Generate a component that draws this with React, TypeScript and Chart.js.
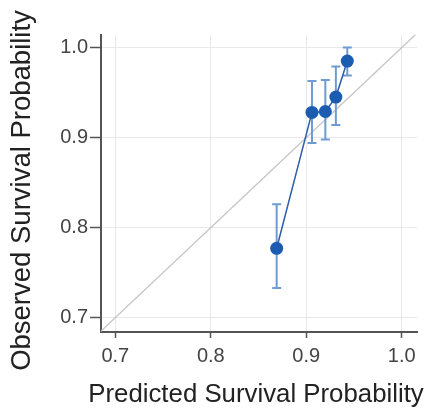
import React, { useEffect, useRef } from "react";
import { Chart, registerables } from "chart.js";

Chart.register(...registerables);

// Calibration data
const predicted = [0.869, 0.906, 0.92, 0.931, 0.943];
const observed = [0.777, 0.928, 0.929, 0.945, 0.985];
const lowerCI = [0.733, 0.894, 0.898, 0.914, 0.969];
const upperCI = [0.826, 0.963, 0.964, 0.979, 1.0];
const referenceLine = [0.68, 1.02];
const tickValues = [0.7, 0.8, 0.9, 1.0];
const xTitle = "Predicted Survival Probability";
const yTitle = "Observed Survival Probability";

const FONT = "'Liberation Sans', Arial, Helvetica, sans-serif";

const errorBarPlugin = {
  id: "errorBars",
  beforeDatasetDraw(chart: any, args: any) {
    if (args.index !== 0) return;
    const { ctx, scales } = chart;
    const x = scales.x;
    const y = scales.y;
    ctx.save();
    ctx.strokeStyle = "#6f9bd2";
    ctx.lineWidth = 2;
    predicted.forEach((p, i) => {
      const px = x.getPixelForValue(p);
      const yl = y.getPixelForValue(lowerCI[i]);
      const yu = y.getPixelForValue(upperCI[i]);
      ctx.beginPath();
      ctx.moveTo(px, yl);
      ctx.lineTo(px, yu);
      ctx.moveTo(px - 4.5, yl);
      ctx.lineTo(px + 4.5, yl);
      ctx.moveTo(px - 4.5, yu);
      ctx.lineTo(px + 4.5, yu);
      ctx.stroke();
    });
    ctx.restore();
  },
};

const axisTitlePlugin = {
  id: "axisTitles",
  afterDraw(chart: any) {
    const { ctx, chartArea } = chart;
    ctx.save();
    ctx.fillStyle = "#222222";
    ctx.textAlign = "center";
    ctx.textBaseline = "middle";
    ctx.font = `25.8px ${FONT}`;
    ctx.fillText(xTitle, (chartArea.left + chartArea.right) / 2 - 3, 395);
    ctx.translate(22, (chartArea.top + chartArea.bottom) / 2 + 7);
    ctx.rotate(-Math.PI / 2);
    ctx.font = `27.5px ${FONT}`;
    ctx.fillText(yTitle, 0, 0);
    ctx.restore();
  },
};

export default function App() {
  const ref = useRef<HTMLCanvasElement | null>(null);

  useEffect(() => {
    document.body.style.margin = "0";
    document.body.style.background = "#ffffff";
    const canvas = ref.current;
    if (!canvas) return;
    const chart = new Chart(canvas, {
      type: "scatter",
      data: {
        datasets: [
          {
            data: predicted.map((p, i) => ({ x: p, y: observed[i] })),
            showLine: true,
            borderColor: "#2a5ea9",
            borderWidth: 1.5,
            backgroundColor: "#1b5cb0",
            pointBackgroundColor: "#1b5cb0",
            pointBorderColor: "#1b5cb0",
            pointRadius: 6.5,
            pointBorderWidth: 0,
            order: 0,
          },
          {
            data: referenceLine.map((v) => ({ x: v, y: v })),
            showLine: true,
            borderColor: "#c4c4c4",
            borderWidth: 1.3,
            pointRadius: 0,
            order: 1,
          },
        ],
      },
      options: {
        animation: false,
        responsive: false,
        devicePixelRatio: 1,
        layout: { padding: { top: 35, right: 20, left: 0, bottom: 0 } },
        plugins: {
          legend: { display: false },
          tooltip: { enabled: false },
        },
        scales: {
          x: {
            type: "linear",
            min: 0.685,
            max: 1.016,
            afterBuildTicks: (s: any) => {
              s.ticks = tickValues.map((v) => ({ value: v }));
            },
            afterFit: (s: any) => {
              s.height = 80;
            },
            grid: {
              color: "#e8e8e8",
              lineWidth: 1,
              tickColor: "#555555",
              tickLength: 6,
              tickWidth: 1.5,
            },
            border: { color: "#555555", width: 2 },
            ticks: {
              padding: 6,
              color: "#444444",
              font: { family: FONT, size: 20 },
              callback: (v: any) => Number(v).toFixed(1),
            },
            title: { display: false },
          },
          y: {
            type: "linear",
            min: 0.684,
            max: 1.014,
            afterBuildTicks: (s: any) => {
              s.ticks = tickValues.map((v) => ({ value: v }));
            },
            afterFit: (s: any) => {
              s.width = 101;
            },
            grid: {
              color: "#e8e8e8",
              lineWidth: 1,
              tickColor: "#555555",
              tickLength: 11,
              tickWidth: 1.5,
            },
            border: { color: "#555555", width: 2 },
            ticks: {
              padding: 2,
              color: "#444444",
              font: { family: FONT, size: 20 },
              callback: (v: any) => Number(v).toFixed(1),
            },
            title: { display: false },
          },
        },
      },
      plugins: [errorBarPlugin, axisTitlePlugin],
    } as any);
    return () => chart.destroy();
  }, []);

  return (
    <div style={{ width: 437, height: 412 }}>
      <canvas ref={ref} width={437} height={412} />
    </div>
  );
}
